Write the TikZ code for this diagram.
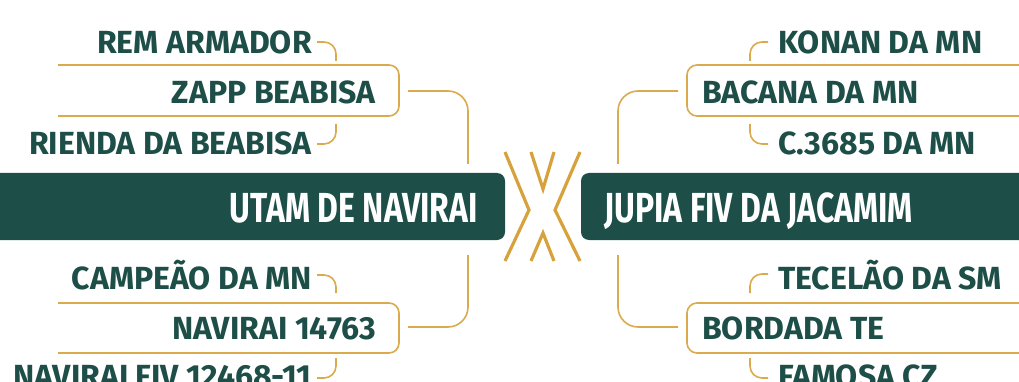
\documentclass[tikz,border=0pt]{standalone}
\usepackage{fontspec}
\setmainfont{Fira Sans}
\newfontfamily\barfont{Fira Sans}[FakeStretch=0.76]
\definecolor{dkgreen}{HTML}{1D4E48}
\definecolor{gold}{HTML}{D7A23C}
\definecolor{lgold}{HTML}{DBAA4C}
\begin{document}
\begin{tikzpicture}[x=1pt,y=-1pt,
  branch/.style={font=\bfseries\fontsize{32}{32}\selectfont, text=dkgreen, inner sep=0pt},
  bartext/.style={font=\barfont\bfseries\fontsize{42}{42}\selectfont, text=white, inner sep=0pt},
  conn/.style={draw=lgold, line width=1.6pt, rounded corners=12pt},
  mainconn/.style={draw=lgold, line width=1.6pt, rounded corners=20pt},
  boxline/.style={draw=lgold, line width=1.6pt, rounded corners=10pt},
  bar/.style={fill=dkgreen, rounded corners=8pt},
  xline/.style={draw=gold, line width=3.2pt}]
\useasboundingbox (0,0) rectangle (1019,382);
% main bars
\fill[bar] (-30,173) rectangle (505,240);
\fill[bar] (581,173) rectangle (1050,240);
\node[bartext, anchor=base east] (utam) at (478,222) {UTAM DE NAVIRAI};
\node[bartext, anchor=base west] (jupia) at (604,222) {JUPIA FIV DA JACAMIM};
% X symbol
\draw[xline] (505,152) -- (529,210) -- (505,261);
\draw[xline] (580,152) -- (555,210) -- (580,261);
\draw[xline] (531,152) -- (543,189) -- (554,152);
\draw[xline] (531,261) -- (543,233) -- (554,261);
% left upper
\node[branch, anchor=base east] (rem) at (312,54) {REM ARMADOR};
\node[branch, anchor=base east] (zapp) at (376,104) {ZAPP BEABISA};
\node[branch, anchor=base east] (rienda) at (312,155) {RIENDA DA BEABISA};
\draw[boxline] (58,65) -- (399,65) -- (399,116) -- (58,116);
\coordinate (remR) at (317,42); \coordinate (zappT) at (336,61);
\draw[conn] (remR) -| (zappT);
\coordinate (zappB) at (336,124); \coordinate (riendaR) at (317,144);
\draw[conn] (zappB) |- (riendaR);
\coordinate (zappR) at (408,91); \coordinate (utamT) at (468,164);
\draw[mainconn] (zappR) -| (utamT);
% left lower
\node[branch, anchor=base east] (camp) at (312,289) {CAMPEÃO DA MN};
\node[branch, anchor=base east] (nav) at (376,339) {NAVIRAI 14763};
\node[branch, anchor=base east] (navfiv) at (312,387) {NAVIRAI FIV 12468-11};
\draw[boxline] (58,303) -- (399,303) -- (399,353) -- (58,353);
\coordinate (campR) at (317,275); \coordinate (navT) at (336,293);
\draw[conn] (campR) -| (navT);
\coordinate (navB) at (336,358); \coordinate (navfivR) at (317,378);
\draw[conn] (navB) |- (navfivR);
\coordinate (utamB) at (468,255); \coordinate (navR) at (408,327);
\draw[mainconn] (utamB) |- (navR);
% right upper
\node[branch, anchor=base west] (konan) at (778,54) {KONAN DA MN};
\node[branch, anchor=base west] (bacana) at (702,104) {BACANA DA MN};
\node[branch, anchor=base west] (c3685) at (778,155) {C.3685 DA MN};
\draw[boxline] (1040,65) -- (687,65) -- (687,116) -- (1040,116);
\coordinate (konanL) at (768,42); \coordinate (bacanaT) at (750,61);
\draw[conn] (konanL) -| (bacanaT);
\coordinate (bacanaB) at (750,124); \coordinate (c3685L) at (768,144);
\draw[conn] (bacanaB) |- (c3685L);
\coordinate (bacanaL) at (678,91); \coordinate (jupiaT) at (618,164);
\draw[mainconn] (bacanaL) -| (jupiaT);
% right lower
\node[branch, anchor=base west] (tecelao) at (778,289) {TECELÃO DA SM};
\node[branch, anchor=base west] (bordada) at (702,339) {BORDADA TE};
\node[branch, anchor=base west] (famosa) at (778,387) {FAMOSA CZ};
\draw[boxline] (1040,303) -- (687,303) -- (687,353) -- (1040,353);
\coordinate (tecelaoL) at (768,274); \coordinate (bordadaT) at (750,293);
\draw[conn] (tecelaoL) -| (bordadaT);
\coordinate (bordadaB) at (750,358); \coordinate (famosaL) at (768,378);
\draw[conn] (bordadaB) |- (famosaL);
\coordinate (jupiaB) at (618,255); \coordinate (bordadaL) at (678,327);
\draw[mainconn] (jupiaB) |- (bordadaL);
\end{tikzpicture}
\end{document}
